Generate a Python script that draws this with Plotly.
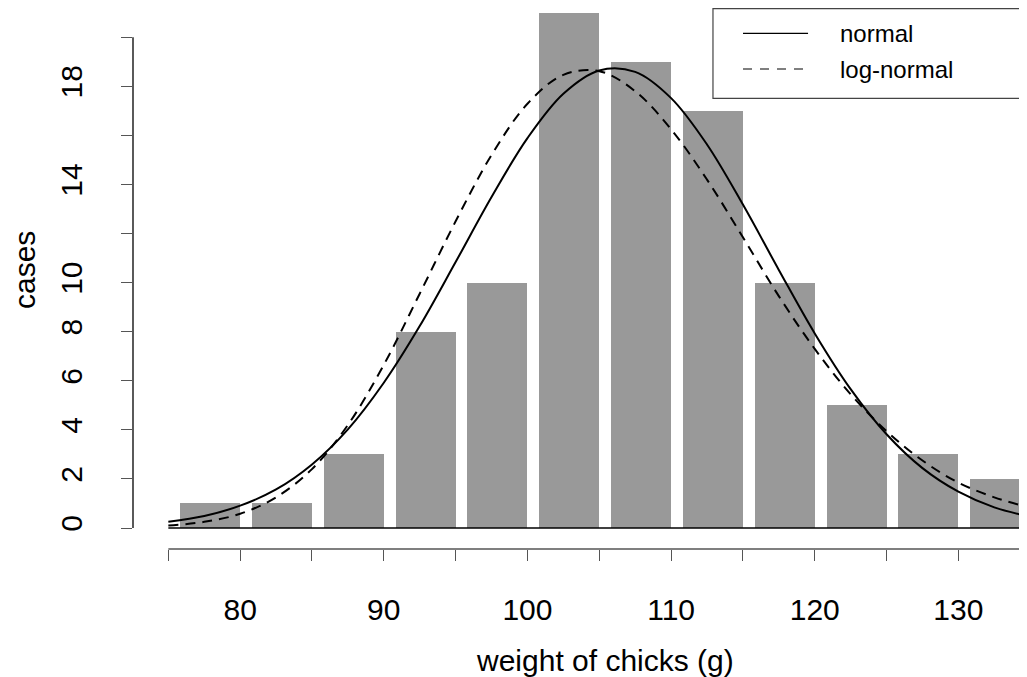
import plotly.graph_objects as go

# histogram of chick weights (bins of 5 g, labelled by upper edge)
bin_upper = [80, 85, 90, 95, 100, 105, 110, 115, 120, 125, 130, 135]
counts = [1, 1, 3, 8, 10, 21, 19, 17, 10, 5, 3, 2]

# fitted curves (cases per bin)
curve_x = [75, 77.5, 80, 82.5, 85, 87.5, 90, 92.5, 95, 97.5, 100, 102.5, 105,
           107.5, 110, 112.5, 115, 117.5, 120, 122.5, 125, 127.5, 130, 132.5, 135]
normal_fit = [0.25, 0.49, 0.91, 1.57, 2.59, 4.02, 5.92, 8.23, 10.84, 13.49, 15.89, 17.70, 18.65,
              18.59, 17.52, 15.63, 13.18, 10.52, 7.93, 5.66, 3.82, 2.44, 1.48, 0.84, 0.46]
lognormal_fit = [0.10, 0.25, 0.58, 1.25, 2.40, 4.20, 6.65, 9.55, 12.50, 15.20, 17.29, 18.47, 18.62,
                 17.80, 16.25, 14.20, 11.85, 9.45, 7.30, 5.45, 3.95, 2.75, 1.85, 1.25, 0.82]

x_ticks = [75, 80, 85, 90, 95, 100, 105, 110, 115, 120, 125, 130, 135]
x_labels = ["", "80", "", "90", "", "100", "", "110", "", "120", "", "130", ""]
y_ticks = [0, 2, 4, 6, 8, 10, 12, 14, 16, 18, 20]
y_labels = ["0", "2", "4", "6", "8", "10", "", "14", "", "18", ""]

FONT = "Liberation Sans, Arial, Helvetica, sans-serif"
BAR_W = 4.18

fig = go.Figure()
fig.add_trace(go.Bar(x=bin_upper, y=counts, width=BAR_W, offset=-BAR_W,
                     marker=dict(color="#999999", line=dict(width=0)),
                     showlegend=False, hoverinfo="skip"))
fig.add_trace(go.Scatter(x=curve_x, y=normal_fit, mode="lines", name="normal",
                         line=dict(color="black", width=2, shape="spline"),
                         showlegend=False))
fig.add_trace(go.Scatter(x=curve_x, y=lognormal_fit, mode="lines", name="log-normal",
                         line=dict(color="black", width=2, dash="10px,7px", shape="spline"),
                         showlegend=False))

# baseline under the bars
fig.add_shape(type="line", xref="x", yref="y", x0=75, x1=140, y0=0, y1=0,
              line=dict(color="black", width=1.3), layer="above")
# x axis line (starts at 75 like the R axis)
fig.add_shape(type="line", xref="x", yref="paper", x0=75, x1=140, y0=0, y1=0,
              line=dict(color="#555555", width=1.3))
# y axis line from 0 to 20
fig.add_shape(type="line", xref="paper", yref="y", x0=0, x1=0, y0=0, y1=20,
              line=dict(color="black", width=1.3))

# legend drawn by hand (R style box, running off the right edge)
fig.add_shape(type="rect", xref="paper", yref="paper", x0=0.6546, x1=1.02, y0=0.8331, y1=0.999,
              line=dict(color="#444444", width=1.2), fillcolor="white", layer="above")
fig.add_shape(type="line", xref="paper", yref="paper", x0=0.6885, x1=0.7619, y0=0.9532, y1=0.9532,
              line=dict(color="black", width=1.2), layer="above")
fig.add_shape(type="line", xref="paper", yref="paper", x0=0.6885, x1=0.7619, y0=0.8872, y1=0.8872,
              line=dict(color="black", width=1.2, dash="9px,8px"), layer="above")
fig.add_annotation(text="normal", xref="paper", yref="paper", x=0.7957, y=0.952,
                   xanchor="left", yanchor="middle", showarrow=False,
                   font=dict(family=FONT, size=24, color="black"))
fig.add_annotation(text="log-normal", xref="paper", yref="paper", x=0.7957, y=0.8872,
                   xanchor="left", yanchor="middle", showarrow=False,
                   font=dict(family=FONT, size=24, color="black"))

# axis titles
fig.add_annotation(text="weight of chicks (g)", xref="paper", yref="paper", x=0.5322, y=-0.207,
                   xanchor="center", yanchor="middle", showarrow=False,
                   font=dict(family=FONT, size=30, color="black"))
fig.add_annotation(text="cases", xref="paper", yref="paper", x=-0.1230, y=0.5157, textangle=-90,
                   xanchor="center", yanchor="middle", showarrow=False,
                   font=dict(family=FONT, size=30, color="black"))

# the page body adds an 8px margin, so the figure is shifted by 8px
fig.update_layout(
    width=1011, height=669,
    margin=dict(l=125, r=0, t=0, b=128),
    paper_bgcolor="white", plot_bgcolor="white",
    font=dict(family=FONT, size=30, color="black"),
    bargap=0,
)
fig.update_xaxes(range=[72.54, 134.22], showgrid=False, zeroline=False, showline=False,
                 tickmode="array", tickvals=x_ticks, ticktext=x_labels,
                 ticks="outside", ticklen=11, tickwidth=1.3, tickcolor="#555555",
                 ticklabelstandoff=23, tickfont=dict(family=FONT, size=30, color="black"))
fig.update_yaxes(range=[-0.856, 21.194], showgrid=False, zeroline=False, showline=False,
                 tickmode="array", tickvals=y_ticks, ticktext=y_labels, tickangle=-90,
                 ticks="outside", ticklen=11, tickwidth=1.3, tickcolor="#555555",
                 ticklabelstandoff=27, tickfont=dict(family=FONT, size=30, color="black"))

fig.write_html("out.html")
